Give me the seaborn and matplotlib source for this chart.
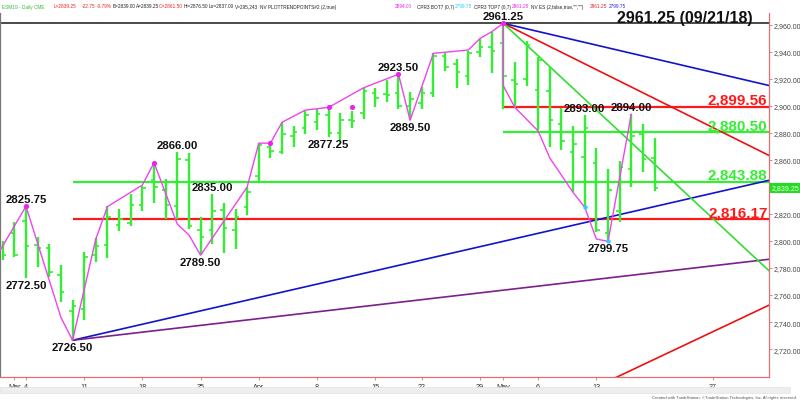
import matplotlib
matplotlib.use("Agg")
import matplotlib.pyplot as plt
import matplotlib.transforms as mtransforms
import numpy as np
import pandas as pd
import seaborn as sns

# -----------------------------------------
# Data: ESM19 daily bars, Feb 28 .. May 20 2019 (bar index = trading day)
# -----------------------------------------
bar_idx = list(range(57))
opens = [2795, 2806, 2815, 2797, 2795, 2775, 2748, 2750, 2790, 2797,
         2812, 2813, 2827, 2845, 2838, 2826, 2860, 2808, 2808, 2823,
         2808, 2825, 2848, 2870, 2866, 2878, 2884, 2888, 2893, 2880,
         2890, 2895, 2910, 2909, 2910, 2900, 2902, 2910, 2937, 2931,
         2922, 2940, 2944, 2947, 2919, 2920, 2912, 2911, 2887, 2866,
         2862, 2858, 2806, 2822, 2853, 2879, 2861.5]
highs = [2800, 2814, 2825.75, 2803, 2797.5, 2782, 2756, 2792, 2802, 2826,
         2824, 2835, 2841, 2857, 2846, 2866, 2865, 2818, 2835, 2828.5,
         2823.5, 2840, 2872.5, 2874, 2888, 2885, 2896, 2898, 2899, 2895,
         2896.5, 2913, 2913.5, 2919, 2923.5, 2910.5, 2914, 2939, 2939, 2935,
         2941, 2949.5, 2954.5, 2961.25, 2932.5, 2948.5, 2936.5, 2929, 2898.5, 2885,
         2893, 2869, 2853, 2859.5, 2894, 2887, 2876.5]
lows = [2786, 2788, 2772.5, 2781, 2773.5, 2755, 2726.5, 2741.5, 2784.5, 2787.5,
        2807.5, 2811.5, 2822.5, 2828, 2816.5, 2816.5, 2809, 2789.5, 2798, 2791,
        2794, 2819, 2843.5, 2861.5, 2864.5, 2869.5, 2879.5, 2882.5, 2877.25, 2873.5,
        2883.5, 2890.5, 2899, 2903, 2898, 2889.5, 2897.5, 2906.5, 2926, 2913,
        2915.5, 2936, 2924.5, 2898, 2899, 2915, 2882.5, 2869.5, 2867.5, 2836.5,
        2825.5, 2806.5, 2799.75, 2814, 2840, 2851.5, 2837]
closes = [2790, 2790, 2796, 2795, 2777, 2762, 2752, 2788, 2796, 2818,
          2816, 2827, 2839, 2840, 2827, 2861, 2811, 2803, 2822, 2810,
          2818, 2836, 2871, 2866.5, 2879.5, 2881, 2893, 2894, 2880, 2890,
          2889, 2911, 2906, 2908, 2900, 2905, 2910, 2937, 2929, 2925,
          2939, 2944, 2941, 2922, 2916, 2945, 2934, 2890, 2874, 2872,
          2884, 2808, 2838, 2855, 2878, 2861, 2839.25]

# swing / trend-point line (magenta)
trend_idx = [-0.23, 2, 5, 6, 8, 9, 12, 13, 15, 16, 17, 21, 22, 23, 24, 26, 28, 31,
             34, 35, 37, 40, 41, 42, 43, 43, 44, 46, 47, 49, 50, 51, 52, 54]
trend_val = [2793, 2825.75, 2743.5, 2726.5, 2801.5, 2825.5, 2841.5, 2858, 2812.5, 2804.5,
             2789.5, 2840, 2872.5, 2872.5, 2888, 2897, 2899, 2913.5,
             2923.5, 2889.5, 2939, 2941.5, 2950, 2955, 2961.25, 2915, 2899, 2881.5,
             2861.5, 2836, 2825, 2801.5, 2799.75, 2894]
dot_idx = [2, 13, 23, 28, 30, 34, 43]
dot_val = [2825.75, 2858, 2872.5, 2899, 2899, 2923.5, 2961.25]
cyan_idx = [50, 52]
cyan_val = [2825, 2799.75]

# horizontal levels
level_vals = [2899.56, 2880.50, 2843.88, 2816.17]
level_start = [43, 43, 6, 6]
level_cols = ["#ff1a1a", "#33ee33", "#33ee33", "#ff1a1a"]
level_text = ["2,899.56", "2,880.50", "2,843.88", "2,816.17"]

# trendlines: start idx, start value, end idx, end value
tl_x0 = [6, 6, 43, 43, 43, 50]
tl_y0 = [2726.5, 2726.5, 2961.25, 2961.25, 2961.25, 2688]
tl_x1 = [65.83, 65.83, 65.83, 65.83, 65.83, 65.83]
tl_y1 = [2845, 2786.5, 2915.2, 2863.4, 2778, 2752.5]
tl_cols = ["#1212cc", "#7d1f8c", "#1212cc", "#ee1111", "#33dd33", "#ee1111"]

# swing labels: idx, value, above?
lab_idx = [2, 2, 6, 15, 18, 17, 28, 34, 35, 43, 50, 54, 52]
lab_val = [2825.75, 2772.5, 2726.5, 2866, 2835, 2789.5, 2877.25, 2923.5, 2889.5,
           2961.25, 2893, 2894, 2799.75]
lab_up = [True, False, False, True, True, False, False, True, False, True, True, True, False]

xtick_pos = [1, 2, 7, 12, 17, 22, 27, 32, 36, 41, 43, 46, 51, 61]
xtick_lab = ["Mar", "4", "11", "18", "25", "Apr", "8", "15", "22", "29", "May", "6", "13", "27"]
yticks = list(range(2720, 2961, 20))

df = pd.DataFrame({"i": bar_idx, "open": opens, "high": highs, "low": lows, "close": closes})

# -----------------------------------------
# Figure
# -----------------------------------------
sns.set_theme(style="white")
plt.rcParams['font.family'] = ['Liberation Sans', 'DejaVu Sans']

W, H = 800, 402
fig = plt.figure(figsize=(W / 100, H / 100), dpi=100)
ax = fig.add_axes([0, 1 - 378 / H, 769 / W, (378 - 14) / H])
ax.set_xlim(-0.232, 65.83)
ax.set_ylim(2699.3, 2968.9)

bar_green = "#33ee33"
ax.vlines(df["i"], df["low"], df["high"], color=bar_green, lw=1.7, zorder=3)
ax.hlines(df["open"], df["i"] - 0.3, df["i"], color=bar_green, lw=1.2, zorder=3)
ax.hlines(df["close"], df["i"], df["i"] + 0.3, color=bar_green, lw=1.2, zorder=3)

# levels
for v, s, c in zip(level_vals, level_start, level_cols):
    ax.hlines(v, s, 65.83, color=c, lw=1.6, zorder=2)
ax.axhline(2961.25, color="#3a3a3a", lw=1.3, zorder=2)

# trendlines
for x0, y0, x1, y1, c in zip(tl_x0, tl_y0, tl_x1, tl_y1, tl_cols):
    ax.plot([x0, x1], [y0, y1], color=c, lw=1.2, zorder=2)

# magenta trend-point line
sns.lineplot(x=trend_idx, y=trend_val, sort=False, estimator=None, color="#ee44ee",
             lw=1.0, ax=ax, zorder=4)
sns.scatterplot(x=dot_idx, y=dot_val, color="#ee22ee", s=14, linewidth=0, ax=ax, zorder=5)
sns.scatterplot(x=cyan_idx, y=cyan_val, color="#33ccff", s=10, linewidth=0, ax=ax, zorder=5)

# swing labels
for i, v, up in zip(lab_idx, lab_val, lab_up):
    ax.annotate(f"{v:.2f}", (i, v), xytext=(0, 7 if up else -7), textcoords="offset pixels",
                ha="center", va="center", fontsize=8.2, fontweight="bold", color="#111111",
                annotation_clip=False, zorder=6)

ax.annotate("2961.25 (09/21/18)", (58.6, 2961.25), xytext=(0, 6), textcoords="offset pixels",
            ha="center", va="center", fontsize=11.5, fontweight="bold", color="#111111",
            annotation_clip=False)

for v, c, t in zip(level_vals, level_cols, level_text):
    ax.annotate(t, (65.7, v), xytext=(0, 7), textcoords="offset pixels", ha="right",
                va="center", fontsize=11, fontweight="bold", color=c)

# axes styling
ax.yaxis.tick_right()
ax.set_yticks(yticks)
# the 2,840 label sits under the last-price box
ax.set_yticklabels(["" if t == 2840 else f"{t:,.2f}" for t in yticks], fontsize=5, color="#444444")
ax.set_xticks(xtick_pos)
ax.set_xticklabels(xtick_lab, fontsize=5.2, color="#333333")
ax.tick_params(axis="y", length=2.5, width=0.6, color="#e07070", pad=1)
ax.tick_params(axis="x", length=2.5, width=0.6, color="#e07070", pad=2)
ax.tick_params(axis="both", which="both", right=True, bottom=True)
ax.spines["top"].set_visible(False)
ax.spines["right"].set_color("#e07070")
ax.spines["bottom"].set_color("#e07070")
ax.spines["left"].set_color("#777777")
for s in ax.spines.values():
    s.set_linewidth(0.9)
ax.set_xlabel("")
ax.set_ylabel("")
ax.grid(False)

# current price box
trans = mtransforms.blended_transform_factory(ax.transAxes, ax.transData)
ax.text(1.004, closes[-1], f"{closes[-1]:,.2f}", transform=trans, fontsize=5, color="white",
        va="center", ha="left",
        bbox=dict(boxstyle="square,pad=0.25", fc="#22dd22", ec="none"))

# header line
header = [(2, "ESM19 - Daily CME", "#33bb33"), (54, "L=2839.25", "#ee2222"),
          (82, "-22.75", "#ee2222"), (97, "-0.79%", "#ee2222"), (113, "B=2839.00", "#222222"),
          (136, "A=2839.25", "#222222"), (159, "O=2861.50", "#ee2222"),
          (184, "Hi=2876.50", "#222222"), (209, "Lo=2837.00", "#222222"),
          (235, "V=295,243", "#222222"), (260, "NV PLOTTRENDPOINTS#2 (2,true)", "#222222"),
          (395, "2894.00", "#ee22ee"), (417, "CPR3 BOT7 (0,7)", "#222222"),
          (455, "2799.75", "#22ccee"), (474, "CPR3 TOP7 (0,7)", "#222222"),
          (512, "2961.25", "#ee22ee"), (531, 'NV ES (2,false,true,"","")', "#222222"),
          (590, "2961.25", "#ee2222"), (609, "2799.75", "#2222ee")]
for xp, t, c in header:
    fig.text(xp / W, 1 - 7 / H, t, fontsize=3.4, color=c, ha="left", va="center")

# scrollbar strip and credit line
fig.patches.append(plt.Rectangle((0, 1 - 394 / H), 790 / W, 6 / H, transform=fig.transFigure,
                                 fc="#eeeeee", ec="#dddddd", lw=0.4))
fig.text(797 / W, 1 - 398 / H,
         "Created with TradeStation. \u00a9TradeStation Technologies, Inc. All rights reserved.",
         fontsize=3, color="#555555", ha="right", va="center")

fig.savefig("out.png", dpi=100)
